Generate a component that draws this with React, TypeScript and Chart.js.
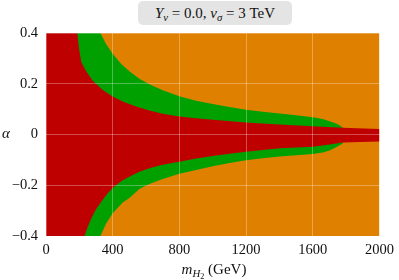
import React, { useEffect, useRef } from 'react';
import { Chart, registerables } from 'chart.js';

Chart.register(...registerables);

// Axis ticks
const xTicks = [0, 400, 800, 1200, 1600, 2000];
const xTickLabels = ['0', '400', '800', '1200', '1600', '2000'];
const yTicks = [-0.4, -0.2, 0, 0.2, 0.4];
const yTickLabels = ['\u22120.4', '\u22120.2', '0', '0.2', '0.4'];

// Red region boundaries (m_H2 in GeV, alpha)
const redUpperMass = [188, 198, 212, 240, 280, 340, 400, 460, 540, 620, 700, 800, 900, 1000, 1200, 1400, 1600, 1780, 2000];
const redUpperAlpha = [0.4, 0.34, 0.285, 0.25, 0.212, 0.175, 0.15, 0.13, 0.11, 0.095, 0.082, 0.071, 0.064, 0.058, 0.047, 0.039, 0.033, 0.027, 0.022];
const redLowerMass = [231, 250, 271, 300, 335, 370, 410, 460, 520, 560, 620, 680, 740, 800, 900, 1000, 1100, 1200, 1300, 1400, 1500, 1600, 1700, 1780, 2000];
const redLowerAlpha = [-0.4, -0.365, -0.332, -0.295, -0.262, -0.232, -0.205, -0.18, -0.16, -0.147, -0.133, -0.122, -0.114, -0.107, -0.095, -0.085, -0.076, -0.068, -0.061, -0.054, -0.051, -0.048, -0.039, -0.032, -0.028];

// Green band outer boundaries
const greenUpperMass = [326, 360, 400, 450, 500, 560, 620, 700, 800, 900, 1000, 1100, 1200, 1300, 1400, 1500, 1600, 1660, 1710, 1750, 1780];
const greenUpperAlpha = [0.4, 0.357, 0.318, 0.279, 0.249, 0.22, 0.198, 0.174, 0.151, 0.133, 0.12, 0.108, 0.098, 0.09, 0.083, 0.076, 0.068, 0.061, 0.05, 0.04, 0.028];
const greenLowerMass = [326, 360, 400, 460, 500, 560, 620, 700, 800, 900, 1000, 1100, 1200, 1300, 1400, 1500, 1600, 1660, 1700, 1740, 1780];
const greenLowerAlpha = [-0.4, -0.352, -0.31, -0.268, -0.25, -0.215, -0.195, -0.175, -0.155, -0.14, -0.125, -0.112, -0.101, -0.094, -0.087, -0.082, -0.077, -0.071, -0.063, -0.05, -0.035];

const RED = '#bf0000';
const GREEN = '#00a000';
const ORANGE = '#e08000';
const FONT = '"Liberation Serif", "DejaVu Serif", serif';

type P = { x: number; y: number };
const toPts = (ms: number[], as: number[]): P[] => ms.map((m, i) => ({ x: m, y: as[i] }));

function Sub({ children }: { children: React.ReactNode }) {
  return (
    <span style={{ fontSize: '72%', position: 'relative', top: '0.28em', lineHeight: 0 }}>{children}</span>
  );
}

export default function App() {
  const ref = useRef<HTMLCanvasElement>(null);

  useEffect(() => {
    const xMin = xTicks[0];
    const xMax = xTicks[xTicks.length - 1];
    const yMin = yTicks[0];
    const yMax = yTicks[yTicks.length - 1];

    const background: P[] = [
      { x: xMin, y: yMax },
      { x: xMax, y: yMax },
      { x: xMax, y: yMin },
      { x: xMin, y: yMin },
    ];
    const greenPoly: P[] = [
      { x: xMin, y: yMax },
      ...toPts(greenUpperMass, greenUpperAlpha),
      ...toPts(greenLowerMass, greenLowerAlpha).reverse(),
      { x: xMin, y: yMin },
    ];
    const redPoly: P[] = [
      { x: xMin, y: yMax },
      ...toPts(redUpperMass, redUpperAlpha),
      ...toPts(redLowerMass, redLowerAlpha).reverse(),
      { x: xMin, y: yMin },
    ];

    const ds = (data: P[], color: string) => ({
      data,
      fill: 'shape' as const,
      backgroundColor: color,
      borderColor: 'transparent',
      borderWidth: 0,
      pointRadius: 0,
      tension: 0,
    });

    const gridOpts = { color: 'rgba(255,255,255,0.3)', lineWidth: 1, drawTicks: false, z: 1 };

    const chart = new Chart(ref.current!, {
      type: 'line',
      data: {
        datasets: [ds(redPoly, RED), ds(greenPoly, GREEN), ds(background, ORANGE)] as any,
      },
      options: {
        animation: false,
        responsive: false,
        devicePixelRatio: 1,
        layout: { padding: { top: 33, right: 16, left: 0, bottom: 0 } },
        plugins: {
          legend: { display: false },
          tooltip: { enabled: false },
          title: { display: false },
        },
        scales: {
          x: {
            type: 'linear',
            min: xMin,
            max: xMax,
            afterBuildTicks: (scale: any) => {
              scale.ticks = xTicks.map((v) => ({ value: v }));
            },
            afterFit: (scale: any) => {
              scale.height = 44;
            },
            border: { display: false },
            grid: gridOpts,
            ticks: {
              padding: 5,
              color: '#111',
              font: { family: FONT, size: 14.5 },
              maxRotation: 0,
              autoSkip: false,
              callback: (_v: any, i: number) => xTickLabels[i],
            },
          },
          y: {
            type: 'linear',
            min: yMin,
            max: yMax,
            afterBuildTicks: (scale: any) => {
              scale.ticks = yTicks.map((v) => ({ value: v }));
            },
            afterFit: (scale: any) => {
              scale.width = 46;
            },
            border: { display: false },
            grid: gridOpts,
            ticks: {
              padding: 8,
              color: '#111',
              font: { family: FONT, size: 14.5 },
              autoSkip: false,
              callback: (_v: any, i: number) => yTickLabels[i],
            },
          },
        },
      } as any,
    });
    return () => chart.destroy();
  }, []);

  return (
    <div
      style={{
        position: 'absolute',
        left: 0,
        top: 0,
        width: 399,
        height: 280,
        background: '#fff',
        fontFamily: FONT,
        color: '#111',
        overflow: 'hidden',
      }}
    >
      <canvas
        ref={ref}
        width={399}
        height={280}
        style={{ position: 'absolute', left: 0, top: 0, width: 399, height: 280, display: 'block' }}
      />
      <div
        style={{
          position: 'absolute',
          left: 138,
          top: 1,
          width: 154,
          height: 24,
          background: '#e4e4e4',
          borderRadius: 5,
          display: 'flex',
          alignItems: 'center',
          justifyContent: 'center',
          fontSize: 15,
          whiteSpace: 'nowrap',
        }}
      >
        <span>
          <i>Y</i>
          <Sub>
            <i>ν</i>
          </Sub>{' '}
          = 0.0, <i>v</i>
          <Sub>
            <i>σ</i>
          </Sub>{' '}
          = 3 TeV
        </span>
      </div>
      <div
        style={{
          position: 'absolute',
          left: 0,
          top: 125,
          width: 12,
          textAlign: 'center',
          fontSize: 15,
          fontStyle: 'italic',
        }}
      >
        α
      </div>
      <div
        style={{
          position: 'absolute',
          left: 114,
          top: 261,
          width: 200,
          textAlign: 'center',
          fontSize: 15,
          whiteSpace: 'nowrap',
        }}
      >
        <i>m</i>
        <Sub>
          <i>H</i>
          <span style={{ fontSize: '75%', position: 'relative', top: '0.25em' }}>2</span>
        </Sub>{' '}
        (GeV)
      </div>
    </div>
  );
}
